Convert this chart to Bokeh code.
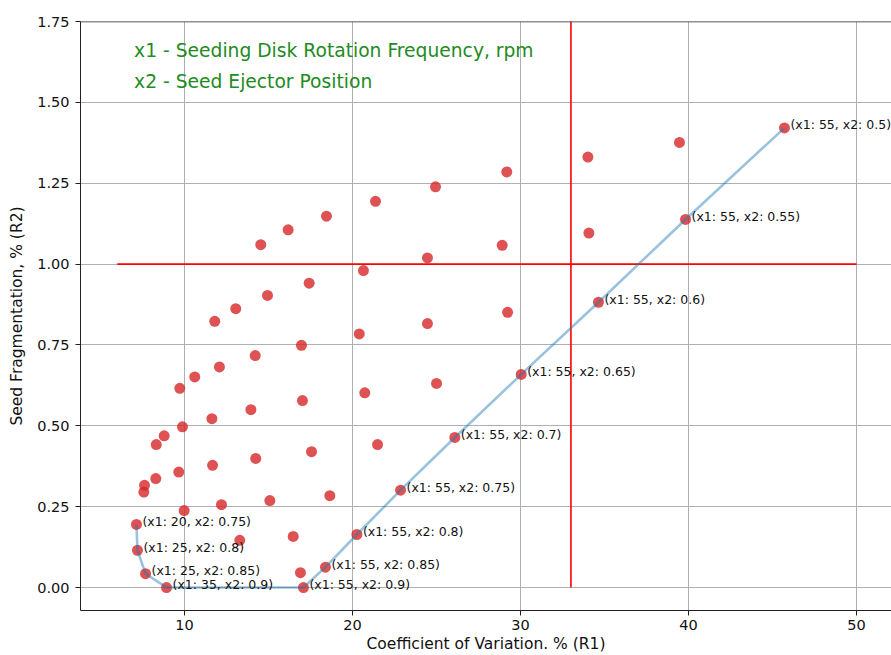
from bokeh.plotting import figure
from bokeh.models import Range1d, FixedTicker, Span
from bokeh.core.properties import value
from bokeh.embed import file_html
from bokeh.resources import INLINE

# ---- data ----
# all evaluated designs that are not on the front: R1 (coef. of variation), R2 (fragmentation)
r1_other = [14.54, 16.17, 18.45, 21.37, 24.94, 29.18, 34.01, 39.46,
            11.80, 13.05, 14.94, 17.42, 20.65, 24.46, 28.91, 34.07,
            9.72, 10.61, 12.08, 14.21, 16.96, 20.40, 24.46, 29.23,
            8.32, 8.79, 9.88, 11.63, 13.95, 17.02, 20.73, 25.00,
            7.58, 7.62, 8.29, 9.66, 11.67, 14.24, 17.56, 21.49,
            9.98, 12.20, 15.08, 18.65,
            13.29, 16.47,
            16.90]
r2_other = [1.060, 1.106, 1.148, 1.194, 1.239, 1.285, 1.331, 1.376,
            0.823, 0.862, 0.903, 0.941, 0.980, 1.019, 1.058, 1.096,
            0.616, 0.651, 0.682, 0.717, 0.749, 0.784, 0.816, 0.851,
            0.442, 0.469, 0.497, 0.522, 0.550, 0.578, 0.602, 0.631,
            0.295, 0.316, 0.337, 0.357, 0.378, 0.399, 0.420, 0.442,
            0.238, 0.256, 0.269, 0.284,
            0.146, 0.158,
            0.046]

# Pareto front
front_r1 = [7.14, 7.20, 7.68, 8.93, 17.08, 18.39, 20.26, 22.86, 26.09, 30.04, 34.64, 39.82, 45.71]
front_r2 = [0.195, 0.115, 0.043, 0.0, 0.0, 0.063, 0.164, 0.301, 0.464, 0.659, 0.882, 1.138, 1.421]
front_labels = ["(x1: 20, x2: 0.75)", "(x1: 25, x2: 0.8)", "(x1: 25, x2: 0.85)",
                "(x1: 35, x2: 0.9)", "(x1: 55, x2: 0.9)", "(x1: 55, x2: 0.85)",
                "(x1: 55, x2: 0.8)", "(x1: 55, x2: 0.75)", "(x1: 55, x2: 0.7)",
                "(x1: 55, x2: 0.65)", "(x1: 55, x2: 0.6)", "(x1: 55, x2: 0.55)",
                "(x1: 55, x2: 0.5)"]

# threshold lines
r1_limit = 33.0
r2_limit = 1.0
h_line_x = [6.0, 50.0]
v_line_y = [0.0, 1.75]

legend_lines = ["x1 - Seeding Disk Rotation Frequency, rpm", "x2 - Seed Ejector Position"]
legend_x = [7.0, 7.0]
legend_y = [1.661, 1.564]

x_ticks = [10, 20, 30, 40, 50]
y_ticks = [0.0, 0.25, 0.5, 0.75, 1.0, 1.25, 1.5, 1.75]
y_tick_labels = ["0.00", "0.25", "0.50", "0.75", "1.00", "1.25", "1.50", "1.75"]

FONT = "DejaVu Sans"

p = figure(width=891, height=655, output_backend="svg", toolbar_location=None,
           x_range=Range1d(3.81, 52.08), y_range=Range1d(-0.071, 1.75),
           min_border_left=80, min_border_top=21, min_border_right=0, min_border_bottom=10)
p.background_fill_color = "white"
p.border_fill_color = "white"
p.outline_line_color = None

# grid
p.xgrid.ticker = FixedTicker(ticks=x_ticks)
p.ygrid.ticker = FixedTicker(ticks=y_ticks)
p.grid.grid_line_color = "#b0b0b0"
p.grid.grid_line_width = 1

# axes
p.xaxis.ticker = FixedTicker(ticks=x_ticks)
p.yaxis.ticker = FixedTicker(ticks=y_ticks)
p.yaxis.major_label_overrides = {t: l for t, l in zip(y_ticks, y_tick_labels)}
p.xaxis.axis_label = "Coefficient of Variation. % (R1)"
p.yaxis.axis_label = "Seed Fragmentation, % (R2)"
for ax in (p.xaxis[0], p.yaxis[0]):
    ax.axis_label_text_font = FONT
    ax.axis_label_text_font_style = "normal"
    ax.axis_label_text_font_size = "15.5px"
    ax.axis_label_text_color = "#111111"
    ax.major_label_text_font = FONT
    ax.major_label_text_font_size = "14.5px"
    ax.major_label_text_color = "#111111"
    ax.axis_line_color = "#222222"
    ax.axis_line_width = 1
    ax.major_tick_line_color = "#222222"
    ax.major_tick_in = 0
    ax.major_tick_out = 5
    ax.minor_tick_line_color = None
p.xaxis.major_label_standoff = 4
p.xaxis.axis_label_standoff = 2
p.yaxis.major_label_standoff = 6
p.yaxis.axis_label_standoff = 8

# top spine
p.add_layout(Span(location=1.75, dimension="width", line_color="#222222", line_width=1.5))

# threshold lines
p.line(x=h_line_x, y=[r2_limit, r2_limit], line_color="red", line_width=1.6)
p.line(x=[r1_limit, r1_limit], y=v_line_y, line_color="red", line_width=1.6)

# points
p.scatter(x=r1_other, y=r2_other, size=11, fill_color="#d62728", fill_alpha=0.8, line_color=None)
p.scatter(x=front_r1, y=front_r2, size=11, fill_color="#d62728", fill_alpha=0.8, line_color=None)

# Pareto front line
p.line(x=front_r1, y=front_r2, line_color="#1f77b4", line_alpha=0.45, line_width=2.6)

# front labels
p.text(x=front_r1, y=front_r2, text=front_labels, text_font=value(FONT), text_font_size="12.5px",
       text_baseline="middle", text_align="left", x_offset=6, y_offset=-3, text_color="#111111")

# description
p.text(x=legend_x, y=legend_y, text=legend_lines, text_font=value(FONT), text_font_size="18.7px",
       text_baseline="alphabetic", text_align="left", text_color="#228B22")

open("out.html", "w").write(file_html(p, INLINE))
